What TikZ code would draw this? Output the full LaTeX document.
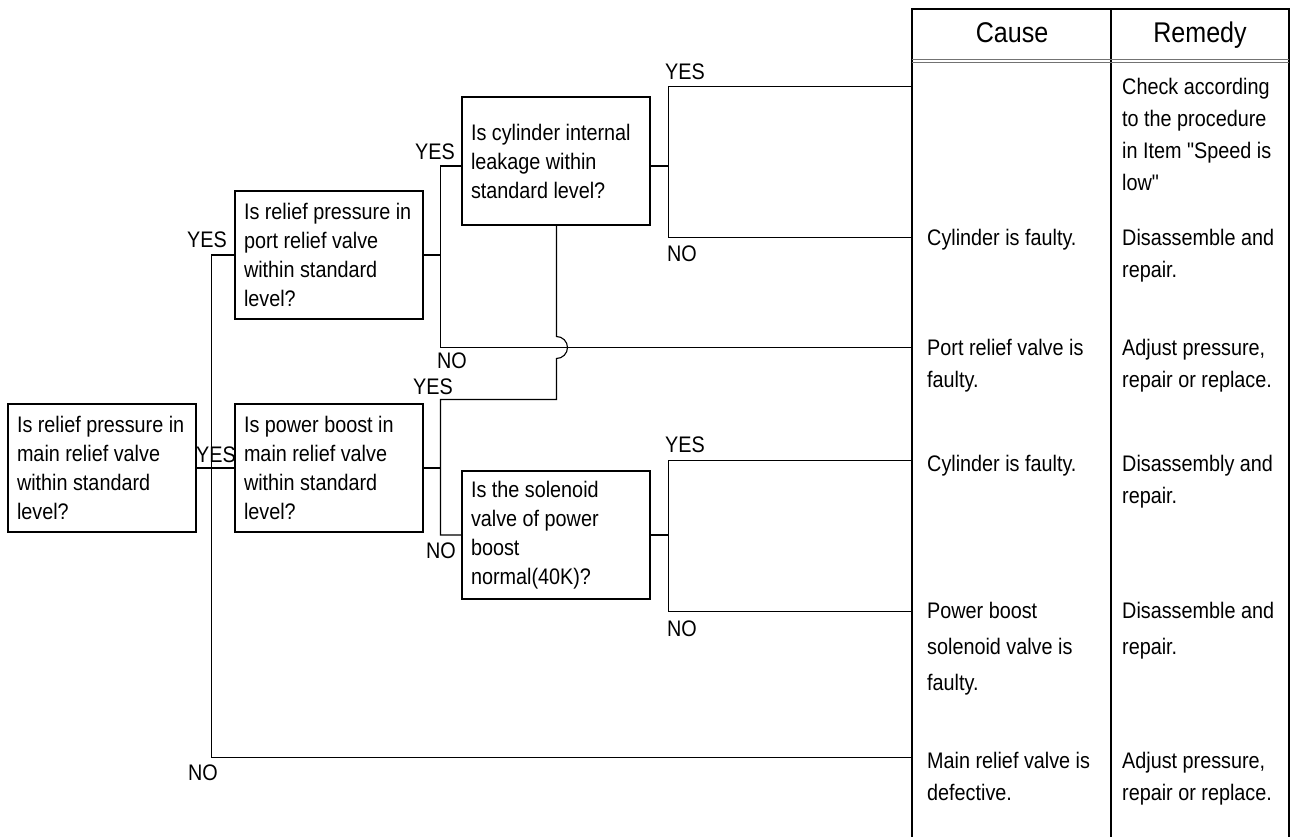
\documentclass[tikz,border=0pt]{standalone}
\usepackage{fontspec}
\setmainfont{Liberation Sans}[FakeStretch=0.88,Ligatures=TeXOff]
\usetikzlibrary{positioning,calc}

\newcommand{\qfont}{\fontsize{22.5}{29}\selectfont}
\newcommand{\cellfont}{\fontsize{22.5}{32}\selectfont}
\newcommand{\headfont}{\fontsize{28.5}{32}\selectfont}

\tikzset{
  qbox/.style={draw,line width=1.2pt,text width=170pt,inner xsep=9pt,inner ysep=0pt,
    minimum height=128pt,align=flush left,font=\qfont},
  ans/.style={inner sep=0pt,font=\qfont},
  head/.style={inner sep=0pt,font=\headfont,anchor=base},
  cell/.style={inner sep=0pt,align=left,font=\cellfont,anchor=north west},
  wire/.style={line width=1.1pt},
  rule/.style={line width=1.2pt},
}

\begin{document}
\begin{tikzpicture}[x=1pt,y=-1pt]
  \useasboundingbox (0,0) rectangle (1295,837);

  % table frame
  \draw[rule] (912,837) -- (912,9) -- (1289,9) -- (1289,837);
  \draw[rule] (1111,9) -- (1111,837);
  \draw[line width=0.9pt,black!55] (912,59.5) -- (1289,59.5);
  \draw[line width=0.9pt,black!55] (912,62.5) -- (1289,62.5);
  \node[head] (hcause) at (1012,43) {Cause};
  \node[head] (hremedy) at (1200,43) {Remedy};

  % questions
  \node[qbox] (mainq) at (102,468) {Is relief pressure in\\main relief valve\\within standard\\level?};
  \node[qbox] (boostq) at (329,468) {Is power boost in\\main relief valve\\within standard\\level?};
  \node[qbox] (portq) at (329,255) {Is relief pressure in\\port relief valve\\within standard\\level?};
  \node[qbox] (leakq) at (556,161) {Is cylinder internal\\leakage within\\standard level?};
  \node[qbox] (solq) at (556,535) {Is the solenoid\\valve of power\\boost\\normal(40K)?};

  % junctions and ends at the table
  \coordinate (jmain) at (211.5,468);
  \coordinate (jport) at (440.5,255);
  \coordinate (jboost) at (440.5,468);
  \coordinate (jleak) at (668.5,166);
  \coordinate (jsol) at (668.5,535);
  \coordinate (bump) at (556.5,347.5);
  \coordinate (tleakyes) at (912,86.5);
  \coordinate (tleakno) at (912,237.5);
  \coordinate (tport) at (912,347.5);
  \coordinate (tsolyes) at (912,460.5);
  \coordinate (tsolno) at (912,611.5);
  \coordinate (tmain) at (912,757.5);

  % connectors
  \draw[wire] (mainq) -- (boostq);
  \draw[wire] (portq.west) -| (jmain) |- (tmain);
  \draw[wire] (portq.east) -- (jport);
  \draw[wire] (leakq.west |- jleak) -| (jport) |- (tport);
  \draw[wire] (leakq.east |- jleak) -- (jleak);
  \draw[wire] (tleakyes) -| (jleak) |- (tleakno);
  \draw[wire] (boostq.east) -- (jboost);
  \draw[wire] (solq.west) -| (jboost) |- (556.5,399.5) -- ($(bump)+(0,11)$)
    arc[start angle=-90,end angle=90,radius=11pt] -- (bump |- leakq.south);
  \draw[wire] (solq.east) -- (jsol);
  \draw[wire] (tsolyes) -| (jsol) |- (tsolno);

  % yes / no
  \node[ans] (yesmain) at (216,455) {YES};
  \node[ans] (yesport) at (207,240) {YES};
  \node[ans] (nomain) at (203,773) {NO};
  \node[ans] (yesleak) at (435,152) {YES};
  \node[ans] (noport) at (452,361) {NO};
  \node[ans] (yesboost) at (433,387) {YES};
  \node[ans] (noboost) at (441,551) {NO};
  \node[ans] (yescyl) at (685,72) {YES};
  \node[ans] (nocyl) at (682,254) {NO};
  \node[ans] (yessol) at (685,445) {YES};
  \node[ans] (nosol) at (682,629) {NO};

  % causes and remedies
  \node[cell] (rcheck) at ($(tleakyes)+(210,-8.5)$) {Check according\\to the procedure\\in Item "Speed is\\low"};
  \node[cell] (ccyl) at ($(tleakno)+(15,-8.5)$) {Cylinder is faulty.};
  \node[cell] (rcyl) at ($(tleakno)+(210,-8.5)$) {Disassemble and\\repair.};
  \node[cell] (cport) at ($(tport)+(15,-8.5)$) {Port relief valve is\\faulty.};
  \node[cell] (rport) at ($(tport)+(210,-8.5)$) {Adjust pressure,\\repair or replace.};
  \node[cell] (csolyes) at ($(tsolyes)+(15,-5.5)$) {Cylinder is faulty.};
  \node[cell] (rsolyes) at ($(tsolyes)+(210,-5.5)$) {Disassembly and\\repair.};
  \node[cell,font=\fontsize{22.5}{36}\selectfont] (csolno) at ($(tsolno)+(15,-9.5)$) {Power boost\\solenoid valve is\\faulty.};
  \node[cell,font=\fontsize{22.5}{36}\selectfont] (rsolno) at ($(tsolno)+(210,-9.5)$) {Disassemble and\\repair.};
  \node[cell] (cmain) at ($(tmain)+(15,-5.5)$) {Main relief valve is\\defective.};
  \node[cell] (rmain) at ($(tmain)+(210,-5.5)$) {Adjust pressure,\\repair or replace.};
\end{tikzpicture}
\end{document}
